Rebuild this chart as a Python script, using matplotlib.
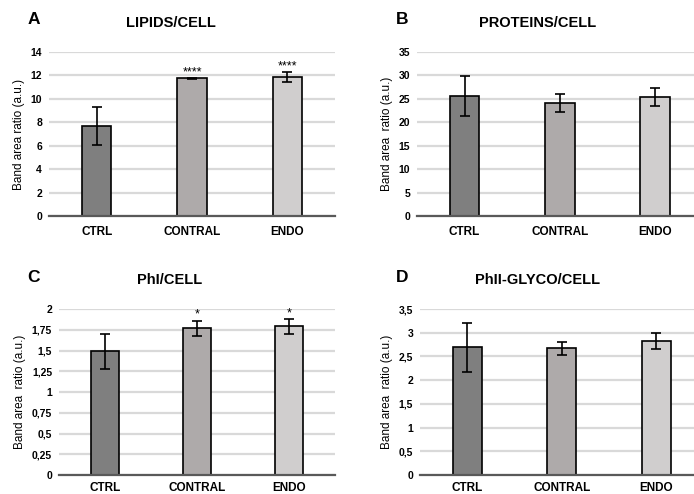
import matplotlib
matplotlib.use('Agg')
import matplotlib.pyplot as plt
import numpy as np

plt.rcParams['font.family'] = ['Liberation Sans', 'DejaVu Sans']
plt.rcParams['font.weight'] = 'bold'

groups = ['CTRL', 'CONTRAL', 'ENDO']
bar_colors = ['#7f7f7f', '#aeaaaa', '#d0cece']

# mean / error for each panel
lipids = [7.7, 11.75, 11.85]
lipids_err = [1.6, 0.05, 0.45]
lipids_sig = ['', '****', '****']

proteins = [25.6, 24.1, 25.4]
proteins_err = [4.2, 1.9, 2.0]
proteins_sig = ['', '', '']

phi = [1.49, 1.77, 1.79]
phi_err = [0.21, 0.09, 0.09]
phi_sig = ['', '*', '*']

phii = [2.69, 2.67, 2.82]
phii_err = [0.52, 0.14, 0.17]
phii_sig = ['', '', '']

W, H = 694, 494
fig = plt.figure(figsize=(W / 100, H / 100), dpi=100)


def px_axes(x0, y0, x1, y1):
    return fig.add_axes([x0 / W, (H - y1) / H, (x1 - x0) / W, (y1 - y0) / H])


panels = [
    # letter, title, ylabel, vals, errs, sig, ymax, yticks, ticklabels, axes box, xmax, xpad, letter pos, title pos
    ('A', 'LIPIDS/CELL', 'Band area ratio (a.u.)', lipids, lipids_err, lipids_sig, 14,
     np.arange(0, 15, 2), [str(v) for v in range(0, 15, 2)],
     (49, 52, 335, 216), 2.5, 7, (34, 20), (171, 23)),
    ('B', 'PROTEINS/CELL', 'Band area  ratio (a.u.)', proteins, proteins_err, proteins_sig, 35,
     np.arange(0, 36, 5), [str(v) for v in range(0, 36, 5)],
     (417, 52, 694, 216), 2.41, 7, (402, 20), (538, 23)),
    ('C', 'PhI/CELL', 'Band area  ratio (a.u.)', phi, phi_err, phi_sig, 2,
     np.arange(0, 2.01, 0.25), ['0', '0,25', '0,5', '0,75', '1', '1,25', '1,5', '1,75', '2'],
     (59, 309, 335, 475), 2.5, 5, (34, 278), (170, 280)),
    ('D', 'PhII-GLYCO/CELL', 'Band area  ratio (a.u.)', phii, phii_err, phii_sig, 3.5,
     np.arange(0, 3.51, 0.5), ['0', '0,5', '1', '1,5', '2', '2,5', '3', '3,5'],
     (420, 309, 694, 475), 2.4, 5, (402, 278), (538, 280)),
]

x = np.arange(len(groups))
for letter, title, ylab, vals, errs, sig, ymax, yt, ytl, box, xmax, xpad, lpos, tpos in panels:
    ax = px_axes(*box)
    ax.bar(x, vals, width=0.31, color=bar_colors, edgecolor='black', linewidth=1.2, zorder=3)
    ax.errorbar(x, vals, yerr=errs, fmt='none', ecolor='black', elinewidth=1.2,
                capsize=3.6, capthick=1.2, zorder=4)
    for xi, v, e, s in zip(x, vals, errs, sig):
        if s:
            ax.annotate(s, (xi, v + e), xytext=(0, 2), textcoords='offset points',
                        ha='center', va='baseline', fontsize=9, fontweight='normal')
    ax.set_xlim(-0.5, xmax)
    ax.set_ylim(0, ymax)
    ax.set_yticks(yt)
    ax.set_yticklabels(ytl)
    ax.set_xticks(x)
    ax.set_xticklabels(groups)
    ax.tick_params(axis='y', length=0, labelsize=7.5, pad=5)
    ax.tick_params(axis='x', length=0, labelsize=8.5, pad=xpad)
    ax.yaxis.grid(True, color='#d9d9d9', linewidth=1.6, zorder=0)
    ax.set_axisbelow(True)
    for sp in ['top', 'right', 'left']:
        ax.spines[sp].set_visible(False)
    ax.spines['bottom'].set_color('#595959')
    ax.spines['bottom'].set_linewidth(1.6)
    ax.spines['bottom'].set_zorder(5)
    ax.set_ylabel(ylab, fontsize=8.5, labelpad=4)
    fig.text(lpos[0] / W, 1 - lpos[1] / H, letter, fontsize=12.5, fontweight='bold',
             ha='center', va='center')
    fig.text(tpos[0] / W, 1 - tpos[1] / H, title, fontsize=10.5, fontweight='bold',
             ha='center', va='center')

fig.savefig('out.png', dpi=100, facecolor='white')
